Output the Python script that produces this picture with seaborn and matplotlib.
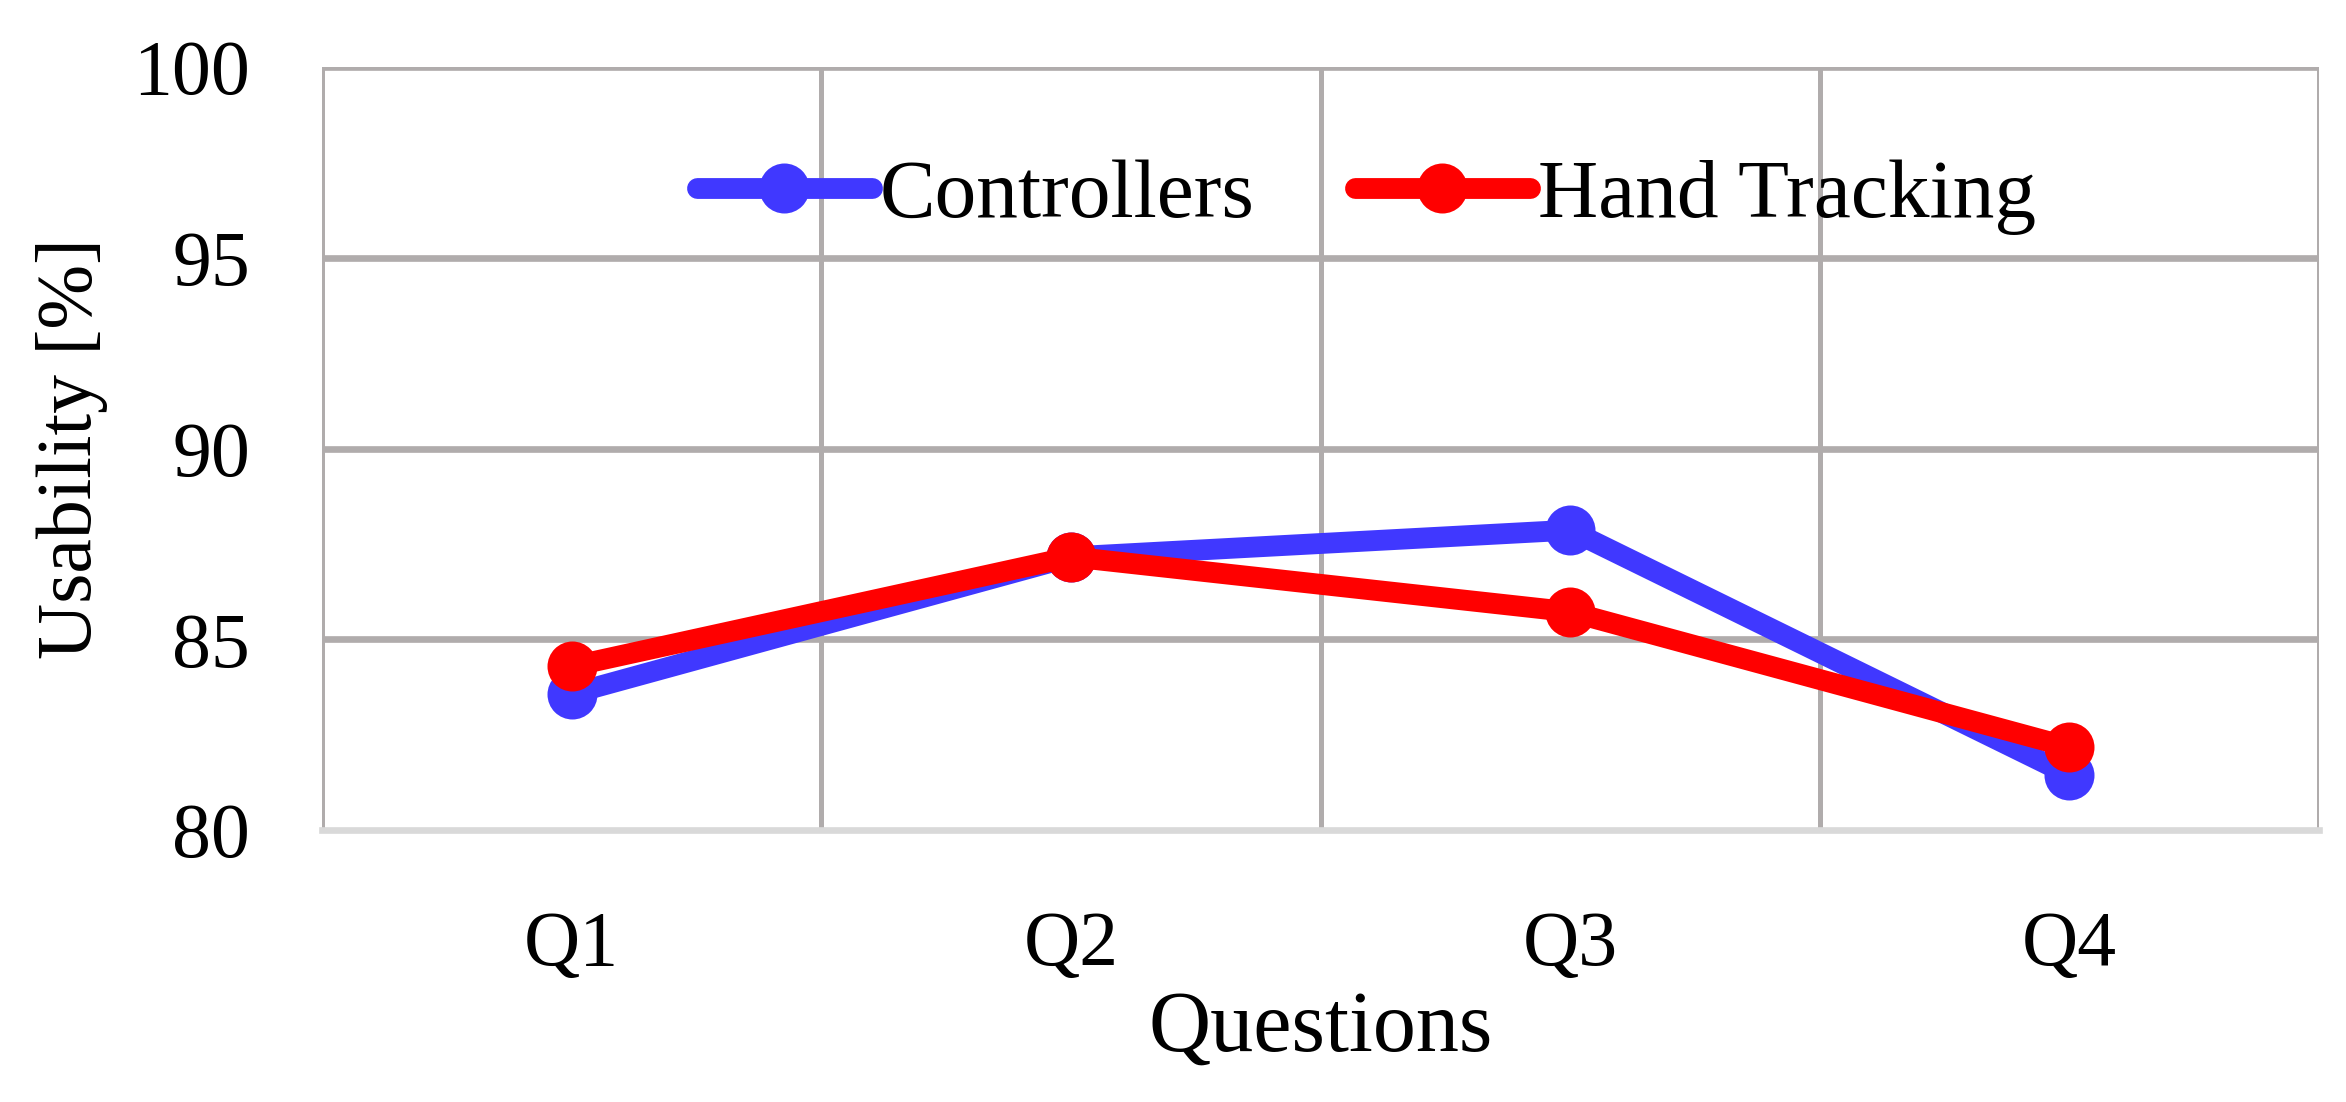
"""
Usability per question: controllers vs hand tracking (Excel-style line chart)
"""

import matplotlib
matplotlib.use("Agg")
import matplotlib.pyplot as plt
import pandas as pd
import seaborn as sns

# Data
questions = ["Q1", "Q2", "Q3", "Q4"]
controllers = [83.57, 87.16, 87.86, 81.44]
hand_tracking = [84.29, 87.16, 85.72, 82.17]
series_names = ["Controllers", "Hand Tracking"]
y_ticks = [80, 85, 90, 95, 100]

colors = {"Controllers": "#4038FF", "Hand Tracking": "#FF0000"}
grid_color = "#B0ACAC"


def build_frame():
    rows = []
    for name, values in zip(series_names, [controllers, hand_tracking]):
        for i, (q, v) in enumerate(zip(questions, values)):
            rows.append({"pos": i, "question": q, "usability": v, "series": name})
    return pd.DataFrame(rows)


def main():
    sns.set_theme(style="white")
    plt.rcParams["font.family"] = ["Liberation Serif", "DejaVu Serif"]
    plt.rcParams["text.color"] = "black"
    plt.rcParams["axes.labelcolor"] = "black"
    plt.rcParams["xtick.color"] = "black"
    plt.rcParams["ytick.color"] = "black"

    df = build_frame()

    fig, ax = plt.subplots(figsize=(23.46, 11.02), dpi=100)
    fig.subplots_adjust(left=0.1373, right=0.9885, top=0.9392, bottom=0.2468)

    # grid first so the lines sit on top
    for y in y_ticks[1:]:
        ax.axhline(y, color=grid_color, lw=4.8, zorder=0)
    for x in [-0.5, 0.5, 1.5, 2.5, 3.5]:
        ax.axvline(x, color=grid_color, lw=3.6, zorder=0)

    sns.lineplot(
        data=df, x="pos", y="usability", hue="series",
        palette=colors, marker="o", markersize=36, markeredgewidth=0,
        linewidth=15, ax=ax, zorder=3, legend=True,
    )

    ax.set_xlim(-0.5, 3.5)
    ax.set_ylim(80, 100)
    ax.set_xticks(range(len(questions)))
    ax.set_xticklabels(questions)
    ax.set_yticks(y_ticks)
    ax.tick_params(axis="x", labelsize=56, pad=58, length=0)
    ax.tick_params(axis="y", labelsize=56, pad=52, length=0)

    ax.set_xlabel("Questions", fontsize=62, labelpad=6)
    ax.set_ylabel("Usability [%]", fontsize=56, labelpad=18)

    for side in ["top", "right", "left"]:
        ax.spines[side].set_visible(False)
    ax.spines["bottom"].set_color("#D9D9D9")
    ax.spines["bottom"].set_linewidth(4.8)
    ax.spines["bottom"].set_zorder(1)

    handles, labels = ax.get_legend_handles_labels()
    ax.legend(
        handles, labels, loc="center", bbox_to_anchor=(0.523, 0.83),
        ncol=2, frameon=False, fontsize=60, handlelength=2.1,
        handletextpad=0.1, columnspacing=1.2,
    )

    fig.savefig("out.png", dpi=100)


if __name__ == "__main__":
    main()
